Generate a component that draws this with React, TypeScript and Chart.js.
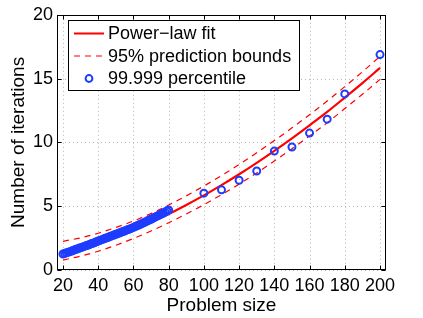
import React, { useEffect, useRef } from "react";
import { Chart, registerables } from "chart.js";

Chart.register(...registerables);

// ---- data ----
const fitSizes = [20, 30, 40, 50, 60, 70, 80, 90, 100, 110, 120, 130, 140, 150, 160, 170, 180, 190, 200];
const fitValues = [1.5, 1.8, 2.17, 2.63, 3.15, 3.74, 4.39, 5.1, 5.85, 6.65, 7.5, 8.4, 9.34, 10.32, 11.34, 12.39, 13.51, 14.65, 15.84];
const upperBound = [2.25, 2.52, 2.88, 3.33, 3.84, 4.43, 5.09, 5.81, 6.58, 7.4, 8.27, 9.19, 10.14, 11.14, 12.17, 13.24, 14.37, 15.53, 16.74];
const lowerBound = [0.78, 1.09, 1.47, 1.94, 2.47, 3.06, 3.7, 4.39, 5.12, 5.9, 6.73, 7.61, 8.54, 9.5, 10.51, 11.54, 12.65, 13.77, 14.94];

const sampleSizes = [
  20, 21, 22, 23, 24, 25, 26, 27, 28, 29, 30, 31, 32, 33, 34, 35, 36, 37, 38, 39, 40,
  41, 42, 43, 44, 45, 46, 47, 48, 49, 50, 51, 52, 53, 54, 55, 56, 57, 58, 59, 60,
  61, 62, 63, 64, 65, 66, 67, 68, 69, 70, 71, 72, 73, 74, 75, 76, 77, 78, 79, 80,
  100, 110, 120, 130, 140, 150, 160, 170, 180, 200,
];
const percentileValues = [
  1.25, 1.3, 1.35, 1.4, 1.44, 1.49, 1.55, 1.6, 1.64, 1.7, 1.75, 1.79, 1.85, 1.9, 1.94, 2.0, 2.05, 2.1, 2.15, 2.21, 2.27,
  2.32, 2.38, 2.42, 2.48, 2.53, 2.58, 2.64, 2.69, 2.74, 2.8, 2.85, 2.9, 2.96, 3.01, 3.06, 3.12, 3.17, 3.22, 3.28, 3.34,
  3.4, 3.46, 3.52, 3.58, 3.65, 3.71, 3.78, 3.85, 3.92, 3.98, 4.06, 4.12, 4.2, 4.26, 4.33, 4.4, 4.47, 4.54, 4.62, 4.7,
  6.02, 6.28, 7.03, 7.76, 9.32, 9.64, 10.73, 11.82, 13.8, 16.88,
];

const xTicks = [20, 40, 60, 80, 100, 120, 140, 160, 180, 200];
const yTicks = [0, 5, 10, 15, 20];
const legendLabels = ["Power\u2212law fit", "95% prediction bounds", "99.999 percentile"];
const xTitle = "Problem size";
const yTitle = "Number of iterations";

const FONT = "'Liberation Sans', Arial, Helvetica, sans-serif";
const RED = "#ff0000";
const BLUE = "#1e3cff";

const gridPlugin = {
  id: "matlabGrid",
  beforeDatasetsDraw(chart: any) {
    const { ctx, chartArea, scales } = chart;
    const { left, right, top, bottom } = chartArea;
    ctx.save();
    ctx.strokeStyle = "#b8b8b8";
    ctx.lineWidth = 1;
    ctx.setLineDash([1, 3]);
    xTicks.forEach((v) => {
      const px = Math.round(scales.x.getPixelForValue(v)) + 0.5;
      ctx.beginPath();
      ctx.moveTo(px, top);
      ctx.lineTo(px, bottom);
      ctx.stroke();
    });
    yTicks.forEach((v) => {
      const py = Math.round(scales.y.getPixelForValue(v)) + 0.5;
      ctx.beginPath();
      ctx.moveTo(left, py);
      ctx.lineTo(right, py);
      ctx.stroke();
    });
    ctx.restore();
  },
};

const boxPlugin = {
  id: "matlabBox",
  afterDraw(chart: any) {
    const { ctx, chartArea, scales } = chart;
    const l = Math.round(chartArea.left) + 0.5;
    const r = Math.round(chartArea.right) - 0.5;
    const t = Math.round(chartArea.top) + 0.5;
    const b = Math.round(chartArea.bottom) - 0.5;
    ctx.save();
    ctx.strokeStyle = "#000";
    ctx.lineWidth = 1;
    ctx.setLineDash([]);
    ctx.strokeRect(l, t, r - l, b - t);
    const tl = 4;
    ctx.beginPath();
    xTicks.forEach((v) => {
      const px = Math.round(scales.x.getPixelForValue(v)) + 0.5;
      ctx.moveTo(px, b);
      ctx.lineTo(px, b - tl);
      ctx.moveTo(px, t);
      ctx.lineTo(px, t + tl);
    });
    yTicks.forEach((v) => {
      const py = Math.round(scales.y.getPixelForValue(v)) + 0.5;
      ctx.moveTo(l, py);
      ctx.lineTo(l + tl, py);
      ctx.moveTo(r, py);
      ctx.lineTo(r - tl, py);
    });
    ctx.stroke();

    // legend
    const lx = 68.5;
    const ly = 20.5;
    const lw = 231;
    const lh = 70;
    ctx.fillStyle = "#fff";
    ctx.fillRect(lx, ly, lw, lh);
    ctx.strokeStyle = "#000";
    ctx.strokeRect(lx, ly, lw, lh);
    const rows = [33.5, 56, 78.5];
    const sx0 = 74;
    const sx1 = 104;
    ctx.strokeStyle = RED;
    ctx.lineWidth = 2;
    ctx.beginPath();
    ctx.moveTo(sx0, rows[0]);
    ctx.lineTo(sx1, rows[0]);
    ctx.stroke();
    ctx.lineWidth = 1.2;
    ctx.setLineDash([6, 5]);
    ctx.beginPath();
    ctx.moveTo(sx0, rows[1]);
    ctx.lineTo(sx1, rows[1]);
    ctx.stroke();
    ctx.setLineDash([]);
    ctx.strokeStyle = BLUE;
    ctx.lineWidth = 2;
    ctx.beginPath();
    ctx.arc(89, rows[2], 3.4, 0, Math.PI * 2);
    ctx.stroke();
    ctx.fillStyle = "#000";
    ctx.font = `18px ${FONT}`;
    ctx.textAlign = "left";
    ctx.textBaseline = "middle";
    legendLabels.forEach((txt, i) => {
      ctx.fillText(txt, 108, rows[i] + 1);
    });
    ctx.restore();
  },
};

export default function App() {
  const canvasRef = useRef<HTMLCanvasElement | null>(null);

  useEffect(() => {
    const canvas = canvasRef.current;
    if (!canvas) return;
    const fitData = fitSizes.map((x, i) => ({ x, y: fitValues[i] }));
    const upData = fitSizes.map((x, i) => ({ x, y: upperBound[i] }));
    const loData = fitSizes.map((x, i) => ({ x, y: lowerBound[i] }));
    const ptData = sampleSizes.map((x, i) => ({ x, y: percentileValues[i] }));

    const chart = new Chart(canvas, {
      type: "scatter",
      data: {
        datasets: [
          {
            label: legendLabels[2],
            data: ptData,
            showLine: false,
            pointStyle: "circle",
            pointRadius: 3.5,
            pointBorderWidth: 2,
            pointBorderColor: BLUE,
            pointBackgroundColor: "rgba(0,0,0,0)",
            borderColor: BLUE,
            backgroundColor: "rgba(0,0,0,0)",
            order: 0,
          },
          {
            label: legendLabels[0],
            data: fitData,
            showLine: true,
            borderColor: RED,
            borderWidth: 2.2,
            pointRadius: 0,
            cubicInterpolationMode: "monotone",
            order: 1,
          },
          {
            label: legendLabels[1],
            data: upData,
            showLine: true,
            borderColor: RED,
            borderWidth: 1.2,
            borderDash: [6, 5],
            pointRadius: 0,
            cubicInterpolationMode: "monotone",
            order: 2,
          },
          {
            label: "lower",
            data: loData,
            showLine: true,
            borderColor: RED,
            borderWidth: 1.2,
            borderDash: [6, 5],
            pointRadius: 0,
            cubicInterpolationMode: "monotone",
            order: 2,
          },
        ],
      },
      options: {
        responsive: false,
        animation: false,
        events: [],
        layout: { padding: { top: 13, right: 37, left: 0, bottom: 0 } },
        plugins: {
          legend: { display: false },
          tooltip: { enabled: false },
        },
        scales: {
          x: {
            type: "linear",
            min: 16.6,
            max: 203.4,
            afterBuildTicks: (s: any) => {
              s.ticks = xTicks.map((v) => ({ value: v }));
            },
            afterFit: (s: any) => {
              s.height = 48;
            },
            grid: { display: false, drawTicks: false },
            border: { display: false },
            ticks: {
              autoSkip: false,
              maxRotation: 0,
              padding: 5,
              color: "#000",
              font: { family: FONT, size: 18 },
              callback: (v: any) => String(v),
            },
            title: {
              display: true,
              text: xTitle,
              color: "#000",
              font: { family: FONT, size: 19 },
              padding: { top: 0, bottom: 1 },
            },
          },
          y: {
            type: "linear",
            min: 0,
            max: 20,
            afterBuildTicks: (s: any) => {
              s.ticks = yTicks.map((v) => ({ value: v }));
            },
            afterFit: (s: any) => {
              s.width = 57;
            },
            grid: { display: false, drawTicks: false },
            border: { display: false },
            ticks: {
              autoSkip: false,
              padding: 4,
              color: "#000",
              font: { family: FONT, size: 18 },
              callback: (v: any) => String(v),
            },
            title: {
              display: true,
              text: yTitle,
              color: "#000",
              font: { family: FONT, size: 19 },
              padding: { top: 7, bottom: 0 },
            },
          },
        },
      },
      plugins: [gridPlugin, boxPlugin],
    } as any);

    return () => {
      chart.destroy();
    };
  }, []);

  return (
    <div style={{ position: "fixed", left: 0, top: 0, width: 423, height: 318, background: "#fff" }}>
      <canvas ref={canvasRef} width={423} height={318} style={{ width: 423, height: 318, display: "block" }} />
    </div>
  );
}
